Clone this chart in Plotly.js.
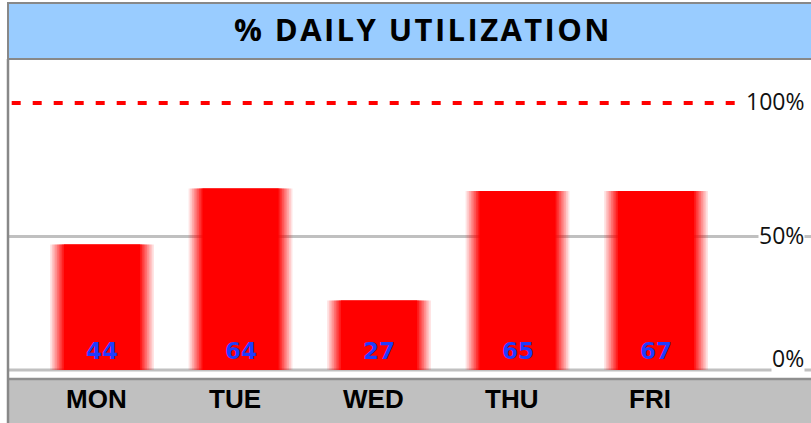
<!DOCTYPE html>
<html>
<head>
<meta charset="utf-8">
<script src="https://cdn.plot.ly/plotly-3.0.1.min.js"></script>
<style>
html,body{margin:0;padding:0;background:#fff;}
#chart{width:811px;height:423px;}
.gtitle{letter-spacing:2.4px;}
</style>
</head>
<body>
<div id="chart"></div>
<script>
// ---- data ----
var days = ["MON", "TUE", "WED", "THU", "FRI"];
var barHeights = [47, 68, 26, 67, 67];      // bar heights as drawn (%)
var labelValues = [44, 64, 27, 65, 67];     // printed values
var axisLabelValues = [0, 50, 100];
var axisLabelText = ["0%", "50%", "100%"];
var gridValues = [0, 50];
var targetValue = 100;

// ---- bars with soft horizontal edges (stacked translucent layers) ----
var traces = [];
var N = 8, outerW = 0.75, coreW = 0.55;
for (var k = 1; k <= N; k++) {
  var a = 1 / (N + 2 - k);
  traces.push({
    type: "bar", x: days, y: barHeights,
    width: outerW - (k - 1) * (outerW - coreW) / N,
    marker: {color: "rgba(255,0,0," + a.toFixed(3) + ")", line: {width: 0}},
    hoverinfo: "skip", showlegend: false
  });
}
traces.push({
  type: "bar", x: days, y: barHeights, width: coreW,
  marker: {color: "#ff0000", line: {width: 0}},
  hoverinfo: "skip", showlegend: false
});

var shapes = [];
// title box
shapes.push({type: "rect", xref: "paper", yref: "paper", x0: 0, x1: 1.2, y0: 1, y1: 1 + 56 / 318,
  fillcolor: "#99ccff", line: {color: "#888888", width: 2}, layer: "above"});
// bottom band
shapes.push({type: "rect", xref: "paper", yref: "paper", x0: 0, x1: 1.2, y0: -0.3, y1: -0.006,
  fillcolor: "#c0c0c0", line: {width: 0}, layer: "above"});
shapes.push({type: "line", xref: "paper", yref: "paper", x0: 0, x1: 1.2, y0: -0.006, y1: -0.006,
  line: {color: "#8f8f8f", width: 2.5}, layer: "above"});
// gridlines
gridValues.forEach(function (g) {
  shapes.push({type: "line", xref: "paper", yref: "y", x0: 0, x1: 1.09, y0: g, y1: g,
    line: {color: "#c0c0c0", width: 3}, layer: "below"});
});
// target dashed line
shapes.push({type: "line", xref: "paper", yref: "y", x0: 0.005, x1: 0.985, y0: targetValue, y1: targetValue,
  line: {color: "#ff0000", width: 4, dash: "9px,12px"}, layer: "above"});
// left border
shapes.push({type: "line", xref: "paper", yref: "paper", x0: 0, x1: 0, y0: -0.3, y1: 1,
  line: {color: "#888888", width: 2.5}, layer: "above"});

var annotations = [];
labelValues.forEach(function (v, i) {
  annotations.push({x: days[i], y: 0, xref: "x", yref: "y", text: "<b>" + v + "</b>", showarrow: false,
    yanchor: "middle", yshift: 19,
    font: {family: "DejaVu Sans", size: 23, color: "#1e3cff"}});
});
days.forEach(function (d) {
  annotations.push({x: d, y: 0, xref: "x", yref: "paper", text: "<b>" + d + "</b>", showarrow: false,
    yanchor: "middle", yshift: -22, xshift: -6,
    font: {family: "Liberation Sans", size: 26, color: "#000000"}});
});
axisLabelValues.forEach(function (v, i) {
  annotations.push({x: 1, y: v, xref: "paper", yref: "y", text: axisLabelText[i], showarrow: false,
    xanchor: "right", yanchor: "middle", xshift: 57, yshift: v === 0 ? 12 : 2,
    bgcolor: "#ffffff", borderpad: 0,
    font: {family: "Open Sans", size: 23, color: "#111111"}});
});

var layout = {
  width: 811, height: 423,
  margin: {l: 8, r: 63, t: 59, b: 46, pad: 0},
  paper_bgcolor: "#ffffff", plot_bgcolor: "#ffffff",
  barmode: "overlay",
  title: {text: "<b>% DAILY UTILIZATION</b>", xref: "container", yref: "container",
    x: 423 / 811, xanchor: "center", y: 1 - 30 / 423, yanchor: "middle",
    font: {family: "Open Sans", size: 31, color: "#000000"}},
  xaxis: {type: "category", range: [-0.679, 4.664], showgrid: false, zeroline: false,
    showticklabels: false, ticks: "", showline: false, fixedrange: true},
  yaxis: {range: [-2.62, 116.48], showgrid: false, zeroline: false,
    showticklabels: false, ticks: "", showline: false, fixedrange: true},
  shapes: shapes,
  annotations: annotations,
  showlegend: false
};

Plotly.newPlot("chart", traces, layout, {displayModeBar: false, staticPlot: true});
</script>
</body>
</html>
